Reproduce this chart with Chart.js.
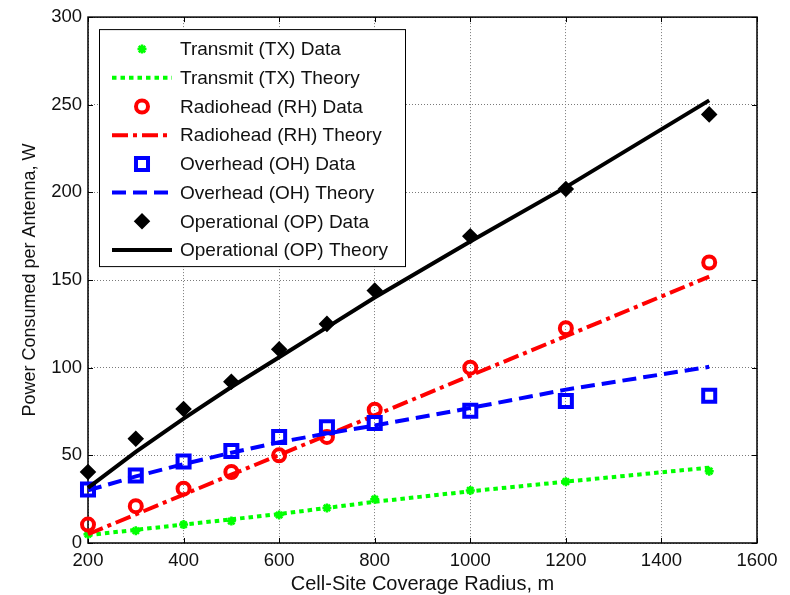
<!DOCTYPE html>
<html>
<head>
<meta charset="utf-8">
<script src="https://cdn.jsdelivr.net/npm/chart.js@4.4.0/dist/chart.umd.min.js"></script>
<style>
    html, body { margin: 0; padding: 0; background: #fff; }
</style>
</head>
<body>
<canvas id="powerChart" width="790" height="595"></canvas>
<script>
// cell-site coverage radius (m)
const radius = [200, 300, 400, 500, 600, 700, 800, 1000, 1200, 1500];

// power consumed per antenna (W)
const txData   = [5, 7, 10.5, 12.5, 16, 20, 25, 30, 35, 41];
const txTheory = [4.5, 7.5, 10.5, 13.5, 16.5, 20, 23.5, 29.5, 35, 43];
const rhData   = [10.5, 21, 31, 40.5, 50, 60.5, 76, 100, 122.5, 160];
const rhTheory = [5, 16.3, 27.6, 39, 50.2, 61.5, 72.8, 95.5, 118, 152];
const ohData   = [30.5, 38.5, 46.5, 52.5, 60.5, 66, 68.5, 75.5, 81, 84];
const ohTheory = [30, 38, 45, 51.5, 57.5, 62.5, 67, 77, 87.5, 100.5];
const opData   = [40.5, 59.5, 76.5, 92, 110.5, 125, 144, 175, 202, 244.5];
const opTheory = [31.5, 52, 71, 89, 106, 123, 140, 172, 203, 252.5];

const seriesLabels = [
    'Transmit (TX) Data', 'Transmit (TX) Theory',
    'Radiohead (RH) Data', 'Radiohead (RH) Theory',
    'Overhead (OH) Data', 'Overhead (OH) Theory',
    'Operational (OP) Data', 'Operational (OP) Theory'
];

const xAxisTitle = 'Cell-Site Coverage Radius, m';
const yAxisTitle = 'Power Consumed per Antenna, W';

const FONT = '"Liberation Sans", Arial, sans-serif';
const GREEN = '#00ff00';
const RED = '#ff0000';
const BLUE = '#0000ff';
const BLACK = '#000000';

function toPoints(values) {
    return radius.map((r, i) => ({ x: r, y: values[i] }));
}

function dataSet(label, values, color, style, size, width, fillColor) {
    return {
        label: label,
        data: toPoints(values),
        showLine: false,
        pointStyle: style,
        pointRadius: size,
        pointBorderWidth: width,
        borderColor: color,
        backgroundColor: fillColor,
        clip: false
    };
}

function theorySet(label, values, color, dash) {
    return {
        label: label,
        data: toPoints(values),
        showLine: true,
        borderColor: color,
        borderWidth: 4,
        borderDash: dash,
        pointRadius: 0,
        fill: false,
        tension: 0,
        clip: false
    };
}

// box round the plot with inward tick marks, like matlab
const frameBox = {
    id: 'frameBox',
    beforeDatasetsDraw(chart) {
        const { ctx, chartArea } = chart;
        const { left, right, top, bottom } = chartArea;
        const xs = chart.scales.x;
        const ys = chart.scales.y;
        const len = 5;
        ctx.save();
        ctx.strokeStyle = '#000';
        ctx.lineWidth = 1.5;
        ctx.strokeRect(left, top, right - left, bottom - top);
        ctx.lineWidth = 1;
        ctx.beginPath();
        xs.ticks.forEach(t => {
            const px = Math.round(xs.getPixelForValue(t.value)) + 0.5;
            ctx.moveTo(px, bottom); ctx.lineTo(px, bottom - len);
            ctx.moveTo(px, top); ctx.lineTo(px, top + len);
        });
        ys.ticks.forEach(t => {
            const py = Math.round(ys.getPixelForValue(t.value)) + 0.5;
            ctx.moveTo(left, py); ctx.lineTo(left + len, py);
            ctx.moveTo(right, py); ctx.lineTo(right - len, py);
        });
        ctx.stroke();
        ctx.restore();
    }
};

// legend in a white box in the upper left of the plot
const legendBox = {
    id: 'legendBox',
    afterDatasetsDraw(chart) {
        const { ctx, chartArea } = chart;
        const boxX = chartArea.left + 11;
        const boxY = chartArea.top + 12;
        const boxW = 306;
        const boxH = 237;
        const rowH = 28.7;
        ctx.save();
        ctx.fillStyle = '#fff';
        ctx.fillRect(boxX, boxY, boxW, boxH);
        ctx.strokeStyle = '#000';
        ctx.lineWidth = 1;
        ctx.strokeRect(boxX + 0.5, boxY + 0.5, boxW, boxH);

        chart.data.datasets.forEach((ds, i) => {
            const y = boxY + 20 + i * rowH;
            if (ds.showLine) {
                ctx.save();
                ctx.strokeStyle = ds.borderColor;
                ctx.lineWidth = ds.borderWidth;
                ctx.setLineDash(ds.borderDash || []);
                ctx.beginPath();
                ctx.moveTo(boxX + 13, y);
                ctx.lineTo(boxX + 73, y);
                ctx.stroke();
                ctx.restore();
            } else {
                ctx.save();
                ctx.strokeStyle = ds.borderColor;
                ctx.fillStyle = ds.backgroundColor;
                ctx.lineWidth = ds.pointBorderWidth;
                Chart.helpers.drawPoint(ctx, {
                    pointStyle: ds.pointStyle,
                    radius: ds.pointRadius,
                    rotation: 0,
                    borderWidth: ds.pointBorderWidth
                }, boxX + 43, y);
                ctx.restore();
            }
            ctx.fillStyle = '#111';
            ctx.font = '19px ' + FONT;
            ctx.textBaseline = 'middle';
            ctx.textAlign = 'left';
            ctx.fillText(ds.label, boxX + 81, y + 1);
        });
        ctx.restore();
    }
};

function initializeChart() {
    const ctx = document.getElementById('powerChart').getContext('2d');
    const datasets = [
        dataSet(seriesLabels[0], txData, GREEN, 'star', 4.5, 2.5, GREEN),
        theorySet(seriesLabels[1], txTheory, GREEN, [4.5, 4]),
        dataSet(seriesLabels[2], rhData, RED, 'circle', 6, 4, 'rgba(0,0,0,0)'),
        theorySet(seriesLabels[3], rhTheory, RED, [16, 5, 4, 5]),
        dataSet(seriesLabels[4], ohData, BLUE, 'rect', 8.5, 4, 'rgba(0,0,0,0)'),
        theorySet(seriesLabels[5], ohTheory, BLUE, [14, 7]),
        dataSet(seriesLabels[6], opData, BLACK, 'rectRot', 6.5, 2.5, BLACK),
        theorySet(seriesLabels[7], opTheory, BLACK, [])
    ];
    // later series drawn on top
    datasets.forEach((ds, i) => { ds.order = datasets.length - i; });

    new Chart(ctx, {
        type: 'scatter',
        data: { datasets: datasets },
        options: {
            responsive: false,
            animation: false,
            devicePixelRatio: 1,
            layout: { padding: { left: 0, top: 14, right: 33, bottom: 0 } },
            plugins: {
                legend: { display: false },
                tooltip: { enabled: false }
            },
            scales: {
                x: {
                    type: 'linear',
                    min: 200,
                    max: 1600,
                    ticks: {
                        stepSize: 200,
                        padding: 7,
                        color: '#111',
                        maxRotation: 0,
                        font: { family: FONT, size: 18.5 },
                        callback: value => String(value)
                    },
                    grid: { color: '#7a7a7a', lineWidth: 1, drawTicks: false },
                    border: { display: false, dash: [1, 2] },
                    title: {
                        display: true,
                        text: xAxisTitle,
                        color: '#111',
                        font: { family: FONT, size: 20, lineHeight: 1 },
                        padding: { top: 0, bottom: 1 }
                    },
                    afterFit: function (scale) { scale.height = 52; }
                },
                y: {
                    type: 'linear',
                    min: 0,
                    max: 300,
                    ticks: {
                        stepSize: 50,
                        padding: 6,
                        color: '#111',
                        font: { family: FONT, size: 18.5 },
                        callback: value => String(value)
                    },
                    grid: { color: '#7a7a7a', lineWidth: 1, drawTicks: false },
                    border: { display: false, dash: [1, 2] },
                    title: {
                        display: true,
                        text: yAxisTitle,
                        color: '#111',
                        font: { family: FONT, size: 18, lineHeight: 1 },
                        padding: { top: 21, bottom: 0 }
                    },
                    afterFit: function (scale) { scale.width = 88; }
                }
            }
        },
        plugins: [frameBox, legendBox]
    });
}

initializeChart();
</script>
</body>
</html>
